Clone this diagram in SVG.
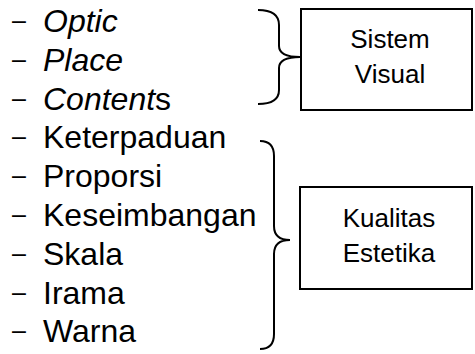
<svg xmlns="http://www.w3.org/2000/svg" width="475" height="354" viewBox="0 0 475 354">
<style>
.t{font-family:Arial,"Liberation Sans",sans-serif;font-size:32px;fill:#000}
.d{font-family:Arial,"Liberation Sans",sans-serif;font-size:25px;fill:#000}
.i{font-style:italic}
.b{font-family:Arial,"Liberation Sans",sans-serif;font-size:26px;fill:#000;text-anchor:middle}
.box{fill:#fff;stroke:#000;stroke-width:2}
.br{fill:none;stroke:#000;stroke-width:2}
</style>
<rect width="475" height="354" fill="#fff"/>
<g id="list-visual">
<text class="d" x="12" y="29">–</text><text class="t i" x="43" y="32">Optic</text>
<text class="d" x="12" y="67.8">–</text><text class="t i" x="43" y="70.8">Place</text>
<text class="d" x="12" y="106.6">–</text><text class="t" x="43" y="109.6"><tspan class="i">Content</tspan>s</text>
</g>
<g id="list-estetika">
<text class="d" x="12" y="145.4">–</text><text class="t" x="43" y="148.4">Keterpaduan</text>
<text class="d" x="12" y="184.2">–</text><text class="t" x="43" y="187.2">Proporsi</text>
<text class="d" x="12" y="223">–</text><text class="t" x="43" y="226">Keseimbangan</text>
<text class="d" x="12" y="261.8">–</text><text class="t" x="43" y="264.8">Skala</text>
<text class="d" x="12" y="300.6">–</text><text class="t" x="43" y="303.6">Irama</text>
<text class="d" x="12" y="339.4">–</text><text class="t" x="43" y="342.4">Warna</text>
</g>
<g id="connectors">
<path class="br" d="M258,10 Q279,10 279,25 L279,46 Q279,57 300,57 Q279,57 279,68 L279,90 Q279,104 258,104"/>
<path class="br" d="M260,141 Q274,141 274,156 L274,226 Q274,240 290,240 Q274,240 274,254 L274,334 Q274,349 260,349"/>
</g>
<g id="sistem-visual">
<rect class="box" x="301" y="9" width="171" height="101"/>
<text class="b" x="390" y="48">Sistem</text>
<text class="b" x="390" y="83">Visual</text>
</g>
<g id="kualitas-estetika">
<rect class="box" x="300" y="187" width="172" height="102"/>
<text class="b" x="389" y="227">Kualitas</text>
<text class="b" x="389" y="262">Estetika</text>
</g>
</svg>
